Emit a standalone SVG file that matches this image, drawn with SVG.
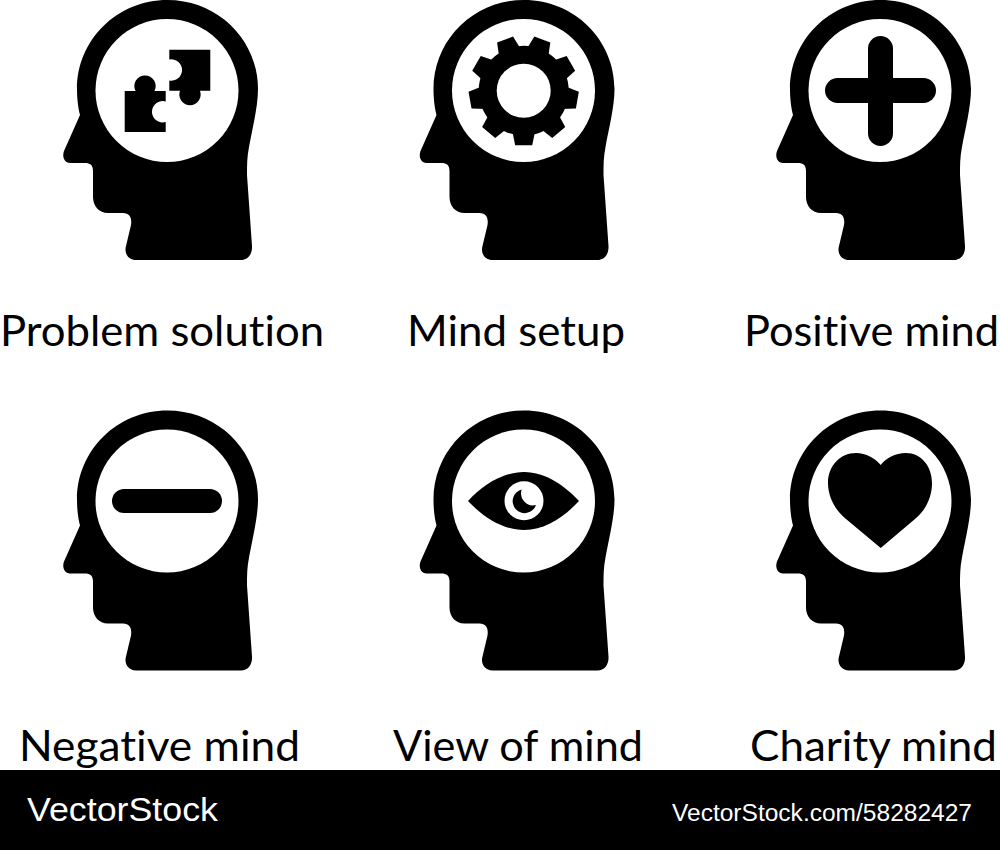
<svg xmlns="http://www.w3.org/2000/svg" width="1000" height="850" viewBox="0 0 1000 850">
<style>
.lbl{font-family:Lato,"Open Sans",sans-serif;font-size:43px;fill:#000;font-variant-ligatures:none}
.wm{font-family:"Liberation Sans",Arial,sans-serif;fill:#fff}
</style>
<defs>
<g id="head">
<path fill="#000" d="M167.500 0C218 0 258 40 258 89C258 107 252 130 249 147C247 157 247 165 247 175L252 246C252.500 254 248 260 241 260L136 260C128 260 124 253 126 246L131 225C132 218 130 213 123 213L108 213C99 213 93 206 93 197L93 171C93 165 90 163 85 163L70 163C64 163 62 156 64 151L80 115C78 108 77 98 77 89C77 40 117 0 167.500 0Z"/>
<circle cx="167" cy="90.500" r="71.500" fill="#fff"/>
</g>
<polygon id="tooth" points="-11.500,40 -8.500,54.500 8.500,54.500 11.500,40" fill="#000"/>
</defs>
<rect width="1000" height="850" fill="#fff"/>
<g id="problem-solution">
<use href="#head"/>
<path fill="#000" d="M124.700 91H135.500A10.700 10.700 0 1 1 154.500 91H165.700V101.500A10.700 10.700 0 1 0 165.700 122V132H124.700Z"/>
<path fill="#000" d="M169.300 49.700H210.300V90.700H200A10.700 10.700 0 1 1 180 90.700H169.300V80.500A10.700 10.700 0 1 0 169.300 59.500Z"/>
<text class="lbl" x="0" y="345.500" textLength="324" lengthAdjust="spacingAndGlyphs">Problem solution</text>
</g>
<g id="mind-setup">
<use href="#head" x="356.500"/>
<g transform="translate(523.700 90.700)">
<circle r="45" fill="#000"/>
<use href="#tooth"/>
<use href="#tooth" transform="rotate(40)"/>
<use href="#tooth" transform="rotate(80)"/>
<use href="#tooth" transform="rotate(120)"/>
<use href="#tooth" transform="rotate(160)"/>
<use href="#tooth" transform="rotate(200)"/>
<use href="#tooth" transform="rotate(240)"/>
<use href="#tooth" transform="rotate(280)"/>
<use href="#tooth" transform="rotate(320)"/>
<circle r="27" fill="#fff"/>
</g>
<text class="lbl" x="407" y="345.500" textLength="218" lengthAdjust="spacingAndGlyphs">Mind setup</text>
</g>
<g id="positive-mind">
<use href="#head" x="713"/>
<rect x="825" y="78" width="111" height="25" rx="12.500" fill="#000"/>
<rect x="868" y="36" width="25" height="110" rx="12.500" fill="#000"/>
<text class="lbl" x="744" y="345.500" textLength="255" lengthAdjust="spacingAndGlyphs">Positive mind</text>
</g>
<g id="negative-mind">
<use href="#head" y="410.500"/>
<rect x="112" y="489" width="110" height="24" rx="12" fill="#000"/>
<text class="lbl" x="19" y="760.500" textLength="281" lengthAdjust="spacingAndGlyphs">Negative mind</text>
</g>
<g id="view-of-mind">
<use href="#head" x="356.500" y="410.500"/>
<path fill="#000" d="M468 501C482 486 502 472 524 472C546 472 565 486 579 501C565 516 546 530 524 530C502 530 482 516 468 501Z"/>
<circle cx="524" cy="500.700" r="19.500" fill="#fff"/>
<path fill="#000" d="M521.700 489.500A12 12 0 1 0 536 505A12 12 0 0 1 521.700 489.500Z"/>
<text class="lbl" x="393" y="760.500" textLength="250" lengthAdjust="spacingAndGlyphs">View of mind</text>
</g>
<g id="charity-mind">
<use href="#head" x="713" y="410.500"/>
<path fill="#000" d="M880.700 548L846 519C835 510 828 497 828 483C828 466 840 453 856 453C866 453 875 458 880.700 465C886 458 895 453 906 453C921 453 932 466 932 483C932 497 926 510 915 519Z"/>
<text class="lbl" x="750" y="760.500" textLength="247" lengthAdjust="spacingAndGlyphs">Charity mind</text>
</g>
<g id="watermark">
<rect x="0" y="770" width="1000" height="80" fill="#000"/>
<text class="wm" x="27" y="821" font-size="33" textLength="191" lengthAdjust="spacingAndGlyphs">VectorStock</text>
<text class="wm" x="672" y="821" font-size="23" textLength="300" lengthAdjust="spacingAndGlyphs">VectorStock.com/58282427</text>
</g>
</svg>
